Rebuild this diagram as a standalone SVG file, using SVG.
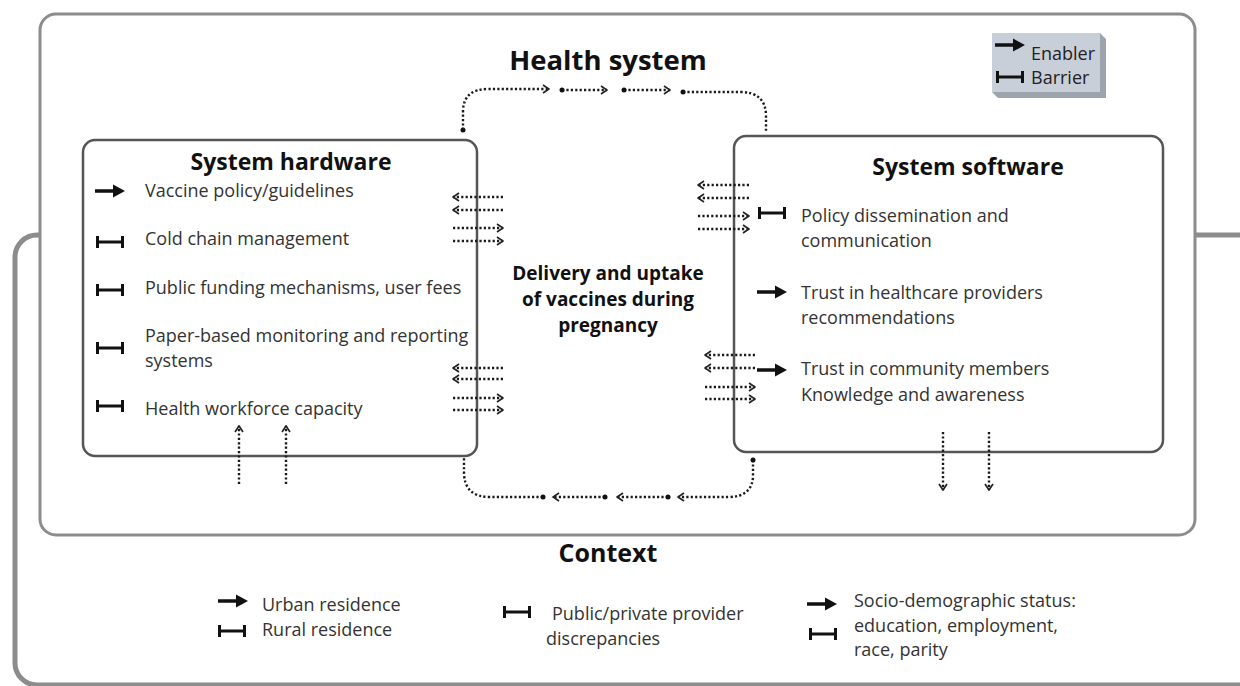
<svg xmlns="http://www.w3.org/2000/svg" xmlns:xlink="http://www.w3.org/1999/xlink" width="1240" height="686" viewBox="0 0 1240 686">
<style>
.t{font-family:"Open Sans","Noto Sans","Liberation Sans",sans-serif;font-size:18px;fill:#333}
.h{font-family:"Open Sans","Noto Sans","Liberation Sans",sans-serif;font-weight:bold;fill:#111}
.dot{fill:none;stroke:#1a1a1a;stroke-width:2.4;stroke-dasharray:2.2 2.2}
</style>
<defs>
<marker id="ah" viewBox="0 0 10 10" refX="9" refY="5" markerWidth="10" markerHeight="10" markerUnits="userSpaceOnUse" orient="auto">
<path d="M3,1 L9,5 L3,9" fill="none" stroke="#222" stroke-width="1.7"/>
</marker>
<marker id="dt" viewBox="0 0 6 6" refX="3" refY="3" markerWidth="6" markerHeight="6" markerUnits="userSpaceOnUse">
<circle cx="3" cy="3" r="2.5" fill="#111"/>
</marker>
<g id="en"><line x1="0" y1="0" x2="20" y2="0" stroke="#111" stroke-width="3.5"/><polygon points="18,-6.5 30,0 18,6.5" fill="#111"/></g>
<g id="ba"><line x1="1" y1="0" x2="27" y2="0" stroke="#111" stroke-width="3"/><line x1="1.5" y1="-6" x2="1.5" y2="6" stroke="#111" stroke-width="3"/><line x1="26.5" y1="-6" x2="26.5" y2="6" stroke="#111" stroke-width="3"/></g>
</defs>
<rect width="1240" height="686" fill="#fff"/>

<g id="context">
<rect x="15" y="235" width="1260" height="450" rx="22" fill="#fff" stroke="#8c8c8c" stroke-width="5"/>
<text class="h" x="608" y="562" font-size="25" text-anchor="middle">Context</text>
<use href="#en" x="218" y="601"/>
<text class="t" x="262" y="611">Urban residence</text>
<use href="#ba" x="218" y="631"/>
<text class="t" x="262" y="636">Rural residence</text>
<use href="#ba" x="503" y="612"/>
<text class="t" x="552" y="620">Public/private provider</text>
<text class="t" x="546" y="645">discrepancies</text>
<use href="#en" x="807" y="604"/>
<text class="t" x="854" y="607">Socio-demographic status:</text>
<text class="t" x="854" y="632">education, employment,</text>
<text class="t" x="854" y="656">race, parity</text>
<use href="#ba" x="809" y="634"/>
</g>

<g id="health-system">
<rect x="40" y="14" width="1155" height="521" rx="16" fill="#fff" stroke="#8c8c8c" stroke-width="3"/>
<text class="h" x="608" y="70" font-size="27.5" text-anchor="middle">Health system</text>
</g>

<g id="legend">
<polygon points="1100,33 1106,39 1106,98 998,98 992,92 1100,92" fill="#9ea4ad"/>
<rect x="992" y="33" width="108" height="59" fill="#c9cfd8"/>
<use href="#en" x="995" y="45"/>
<text class="t" x="1031" y="60" style="fill:#222">Enabler</text>
<use href="#ba" x="996" y="77"/>
<text class="t" x="1031" y="84" style="fill:#222">Barrier</text>
</g>

<g id="delivery">
<text class="h" font-size="19" text-anchor="middle"><tspan x="608" y="280">Delivery and uptake</tspan><tspan x="608" y="306">of vaccines during</tspan><tspan x="608" y="332">pregnancy</tspan></text>
</g>

<g id="system-hardware">
<rect x="83" y="140" width="394" height="316" rx="12" fill="none" stroke="#555" stroke-width="2.5"/>
<text class="h" x="291" y="170" font-size="23" text-anchor="middle">System hardware</text>
<use href="#en" x="95" y="191"/>
<text class="t" x="145" y="197">Vaccine policy/guidelines</text>
<use href="#ba" x="96" y="242"/>
<text class="t" x="145" y="245">Cold chain management</text>
<use href="#ba" x="96" y="290"/>
<text class="t" x="145" y="294">Public funding mechanisms, user fees</text>
<use href="#ba" x="96" y="348"/>
<text class="t" x="145" y="342">Paper-based monitoring and reporting</text>
<text class="t" x="145" y="367">systems</text>
<use href="#ba" x="96" y="406"/>
<text class="t" x="145" y="415">Health workforce capacity</text>
</g>

<g id="system-software">
<rect x="734" y="136" width="429" height="316" rx="12" fill="none" stroke="#555" stroke-width="2.5"/>
<text class="h" x="968" y="175" font-size="23" text-anchor="middle">System software</text>
<use href="#ba" x="758" y="213"/>
<text class="t" x="801" y="222">Policy dissemination and</text>
<text class="t" x="801" y="247">communication</text>
<use href="#en" x="757" y="292"/>
<text class="t" x="801" y="299">Trust in healthcare providers</text>
<text class="t" x="801" y="324">recommendations</text>
<use href="#en" x="757" y="370"/>
<text class="t" x="801" y="375">Trust in community members</text>
<text class="t" x="801" y="401">Knowledge and awareness</text>
</g>

<g id="connectors">
<path class="dot" d="M463,130 L463,112 Q463,89 488,89 L549,89" marker-start="url(#dt)" marker-end="url(#ah)"/>
<path class="dot" d="M562,90 L607,90" marker-start="url(#dt)" marker-end="url(#ah)"/>
<path class="dot" d="M624,90 L670,90" marker-start="url(#dt)" marker-end="url(#ah)"/>
<path class="dot" d="M683,92 L740,92 Q766,92 766,116 L766,132" marker-start="url(#dt)"/>
<path class="dot" d="M753,460 L753,475 Q753,497 728,497 L678,497" marker-start="url(#dt)" marker-end="url(#ah)"/>
<path class="dot" d="M668,497 L617,497" marker-start="url(#dt)" marker-end="url(#ah)"/>
<path class="dot" d="M605,497 L553,497" marker-start="url(#dt)" marker-end="url(#ah)"/>
<path class="dot" d="M543,497 L490,497 Q464,497 464,472 L464,458" marker-start="url(#dt)"/>
<path class="dot" d="M503,197 L453,197" marker-end="url(#ah)"/>
<path class="dot" d="M503,210 L453,210" marker-end="url(#ah)"/>
<path class="dot" d="M453,228 L503,228" marker-end="url(#ah)"/>
<path class="dot" d="M453,241 L503,241" marker-end="url(#ah)"/>
<path class="dot" d="M503,368 L453,368" marker-end="url(#ah)"/>
<path class="dot" d="M503,379 L453,379" marker-end="url(#ah)"/>
<path class="dot" d="M453,398 L503,398" marker-end="url(#ah)"/>
<path class="dot" d="M453,410 L503,410" marker-end="url(#ah)"/>
<path class="dot" d="M749,185 L698,185" marker-end="url(#ah)"/>
<path class="dot" d="M749,198 L698,198" marker-end="url(#ah)"/>
<path class="dot" d="M698,216 L749,216" marker-end="url(#ah)"/>
<path class="dot" d="M698,229 L749,229" marker-end="url(#ah)"/>
<path class="dot" d="M755,355 L705,355" marker-end="url(#ah)"/>
<path class="dot" d="M755,368 L705,368" marker-end="url(#ah)"/>
<path class="dot" d="M705,387 L755,387" marker-end="url(#ah)"/>
<path class="dot" d="M705,399 L755,399" marker-end="url(#ah)"/>
<path class="dot" d="M239,484 L239,426" marker-end="url(#ah)"/>
<path class="dot" d="M286,484 L286,426" marker-end="url(#ah)"/>
<path class="dot" d="M943,432 L943,490" marker-end="url(#ah)"/>
<path class="dot" d="M989,432 L989,490" marker-end="url(#ah)"/>
</g>
</svg>
